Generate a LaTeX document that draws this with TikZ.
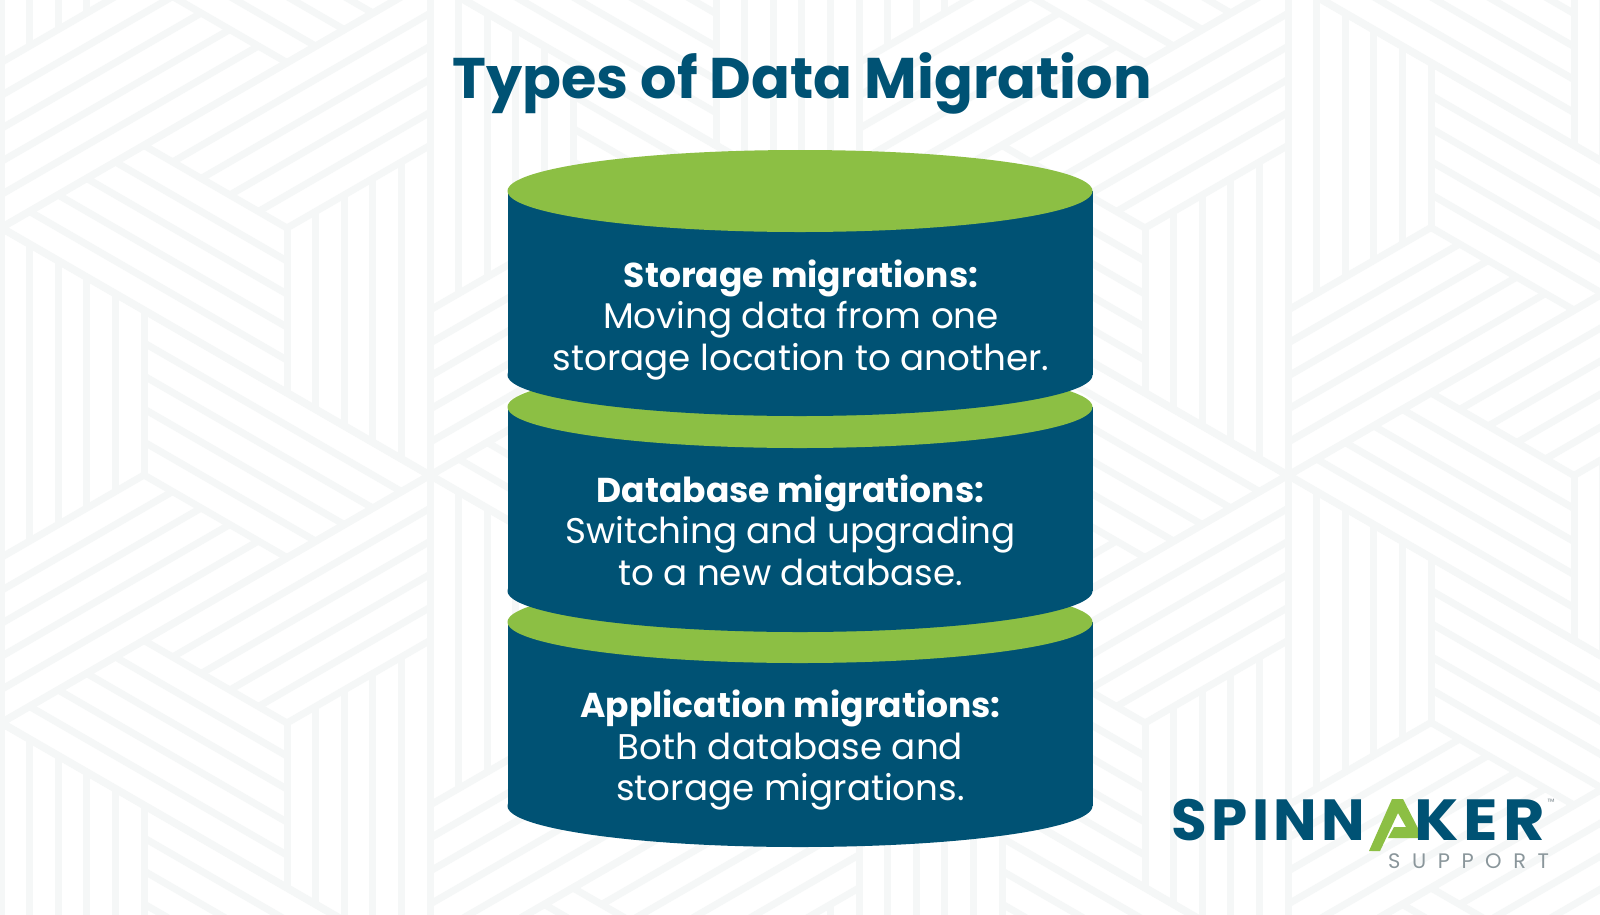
\documentclass[tikz,border=0pt]{standalone}
\usepackage{fontspec}
\setmainfont{Poppins}
\definecolor{deepblue}{HTML}{005274}
\definecolor{leafgreen}{HTML}{8CBF44}
\definecolor{palestripe}{HTML}{F5F7F7}
\definecolor{logogray}{HTML}{8A969B}
\tikzset{
         stripe/.style={draw=palestripe,line width=7pt},
         drumbody/.style={fill=deepblue},
         drumlid/.style={fill=leafgreen},
         drumtext/.style={text=white,align=center,font=\fontsize{35.7}{41.5}\selectfont},
         titletext/.style={text=deepblue,font=\bfseries\fontsize{57.3}{70}\selectfont},
         logotext/.style={text=deepblue,font=\bfseries\fontsize{58}{60}\selectfont},
         subtext/.style={text=logogray,font=\fontsize{21}{24}\selectfont\addfontfeature{LetterSpace=55}}
        }
\newcommand{\pinwheel}[3]{%
  \foreach \turn in {0,120,240}{%
    \begin{scope}[shift={(#1,#2)},rotate=#3+\turn]
      \foreach \k in {0,...,4}
        \draw[stripe] (28.6*\k,-16.5*\k) -- (28.6*\k,165+16.5*\k);
      \draw[stripe] (143,-247.5) -- (143,247.5);
    \end{scope}}}
\begin{document}
\begin{tikzpicture}[x=1pt,y=-1pt]
    \useasboundingbox (0,0) rectangle (1600,914);
    \fill[white] (0,0) rectangle (1600,914); % Page
    \begin{scope}
      \clip (0,0) rectangle (1600,914);
      \foreach \a in {-1,...,4}
        \foreach \b in {-3,...,3}{
          \pinwheel{287+429*\a}{228+247.5*\a+495*\b}{0} % Left pointing
          \pinwheel{144+429*\a}{-20+247.5*\a+495*\b}{180} % Right pointing
        }
    \end{scope}
    \foreach \ytop/\ybot in {622/806,407/591,191/375}{ % Drums, lowest first
      \fill[drumbody] (507.5,\ytop) rectangle (1092.5,\ybot);
      \fill[drumbody] (800,\ybot) ellipse [x radius=292.5pt,y radius=41pt];
      \fill[drumlid] (800,\ytop) ellipse [x radius=292.5pt,y radius=41pt];
    }
    \node[titletext] (title) at (802,83) {Types of Data Migration}; % Heading
    \node[drumtext] (storage) at (801,319.5) {{\bfseries\fontsize{34.5}{41.5}\selectfont Storage migrations:}\\Moving data from one\\storage location to another.};
    \node[drumtext] (database) at (790.5,530) {{\bfseries\fontsize{34.5}{41.5}\selectfont Database migrations:}\\Switching and upgrading\\to a new database.};
    \node[drumtext] (application) at (790.5,750) {{\bfseries\fontsize{34.5}{41.5}\selectfont Application migrations:}\\Both database and\\storage migrations.};
    \fill[leafgreen] (1369,851) -- (1392,799) -- (1403,799) -- (1423,838) -- (1388,838) -- (1394,827) -- (1406,827) -- (1398,813) -- (1380,851) -- cycle; % Logo sail
    \node[logotext,anchor=base west,inner sep=0pt] (logoleft) at (1171,840) {\addfontfeature{LetterSpace=7.8}SPINN}; % Logo
    \node[logotext,anchor=base west,inner sep=0pt,xscale=1.1,transform shape] (logoright) at (1414,840) {\addfontfeature{LetterSpace=8}KER};
    \node[subtext,anchor=base west,inner sep=0pt] (support) at (1388,868) {SUPPORT};
    \node[text=logogray,font=\fontsize{9}{9}\selectfont,anchor=center,inner sep=0pt] (trademark) at (1551,802) {™};
\end{tikzpicture}
\end{document}
